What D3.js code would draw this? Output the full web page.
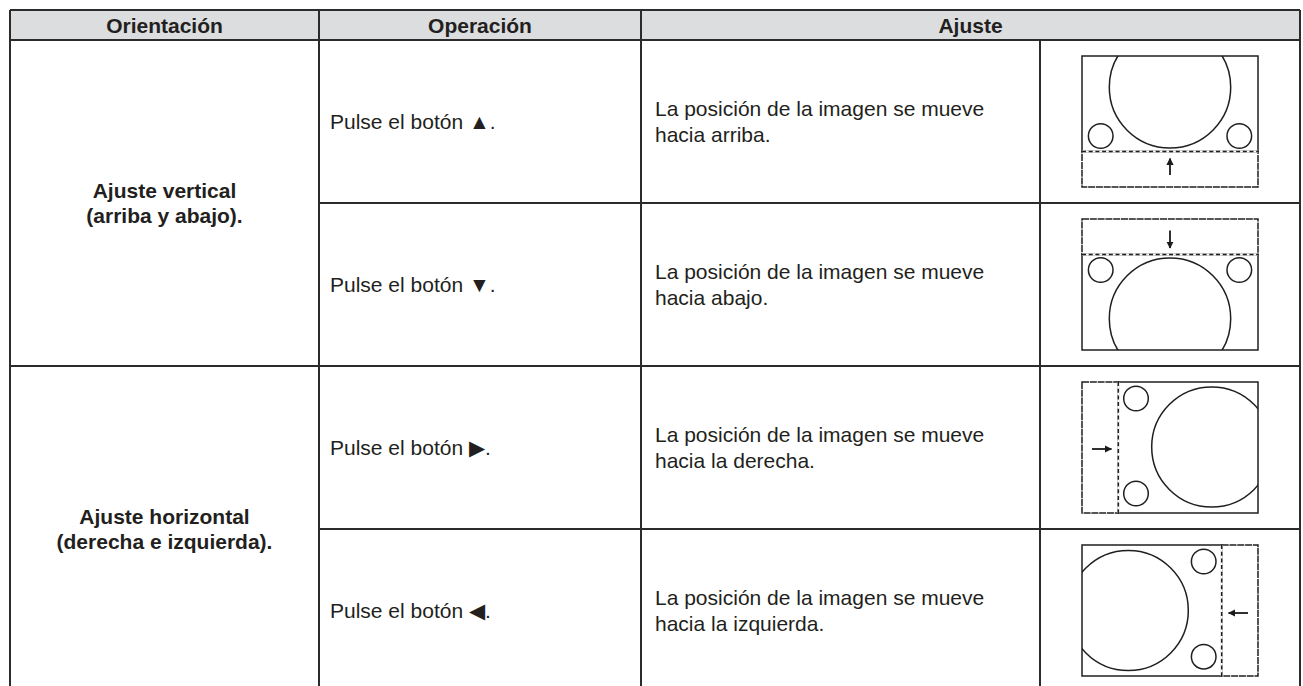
<!DOCTYPE html>
<html>
<head>
<meta charset="utf-8">
<script src="https://cdn.jsdelivr.net/npm/d3@7"></script>
<style>
  html, body { margin: 0; padding: 0; background: #fff; }
  svg { display: block; }
</style>
</head>
<body>
<svg id="chart" width="1303" height="686"></svg>
<script>
// ---- data ----
const headers = ["Orientación", "Operación", "Ajuste"];
const orientations = [
  ["Ajuste vertical", "(arriba y abajo)."],
  ["Ajuste horizontal", "(derecha e izquierda)."]
];
const operations = [
  "Pulse el botón ▲.",
  "Pulse el botón ▼.",
  "Pulse el botón ▶.",
  "Pulse el botón ◀."
];
const adjustments = [
  ["La posición de la imagen se mueve", "hacia arriba."],
  ["La posición de la imagen se mueve", "hacia abajo."],
  ["La posición de la imagen se mueve", "hacia la derecha."],
  ["La posición de la imagen se mueve", "hacia la izquierda."]
];
const directions = ["up", "down", "right", "left"];

// ---- layout ----
const W = 1303, H = 686;
const svg = d3.select("#chart");
const FONT = "'Liberation Sans', Arial, Helvetica, sans-serif";
const LINE = "#2b2b2b";
const TXT = "#231f20";
const FS = 21;

const tableTop = 10, headerH = 30;
const colX = d3.scaleOrdinal().domain(["c0", "c1", "c2", "c3", "c4"]).range([10, 319, 641, 1040, 1300]);
const rowY = d3.scaleBand().domain(d3.range(operations.length)).range([tableTop + headerH, tableTop + headerH + 4 * 163]);
const groupY = d3.scaleBand().domain(d3.range(orientations.length)).range([tableTop + headerH, tableTop + headerH + 4 * 163]);

// header background
svg.append("rect")
  .attr("x", colX("c0")).attr("y", tableTop)
  .attr("width", colX("c4") - colX("c0")).attr("height", headerH)
  .attr("fill", "#dcdddf");

// header text
const headerCenters = [
  (colX("c0") + colX("c1")) / 2,
  (colX("c1") + colX("c2")) / 2,
  (colX("c2") + colX("c4")) / 2
];
svg.selectAll("text.hdr").data(headers).join("text")
  .attr("class", "hdr")
  .attr("x", (d, i) => headerCenters[i])
  .attr("y", tableTop + headerH / 2 + 7.5)
  .attr("text-anchor", "middle")
  .attr("font-family", FONT).attr("font-weight", "bold").attr("font-size", FS)
  .attr("fill", TXT)
  .text(d => d);

// grid lines
const lines = [];
lines.push({x1: colX("c0"), x2: colX("c4"), y1: tableTop, y2: tableTop, w: 1.6});
lines.push({x1: colX("c0"), x2: colX("c4"), y1: tableTop + headerH, y2: tableTop + headerH, w: 1.6});
["c0", "c1", "c2", "c4"].forEach(c => lines.push({x1: colX(c), x2: colX(c), y1: tableTop, y2: H + 5, w: 1.4}));
lines.push({x1: colX("c3"), x2: colX("c3"), y1: tableTop + headerH, y2: H + 5, w: 1.2});
d3.range(1, operations.length).forEach(i => {
  const isGroup = i % 2 === 0;
  lines.push({
    x1: isGroup ? colX("c0") : colX("c1"), x2: colX("c4"),
    y1: rowY(i), y2: rowY(i), w: isGroup ? 1.8 : 1.2
  });
});
svg.selectAll("line.grid").data(lines).join("line")
  .attr("class", "grid")
  .attr("x1", d => d.x1).attr("x2", d => d.x2)
  .attr("y1", d => d.y1).attr("y2", d => d.y2)
  .attr("stroke", LINE).attr("stroke-width", d => d.w)
  .attr("shape-rendering", "crispEdges");

// orientation column (merged cells)
const lh = 25.7;
orientations.forEach((lns, gi) => {
  const cy = groupY(gi) + groupY.bandwidth() / 2;
  const t = svg.append("text")
    .attr("text-anchor", "middle")
    .attr("font-family", FONT).attr("font-weight", "bold").attr("font-size", FS)
    .attr("fill", TXT);
  lns.forEach((s, k) => {
    t.append("tspan")
      .attr("x", (colX("c0") + colX("c1")) / 2)
      .attr("y", cy + (k - (lns.length - 1) / 2) * lh + 7.5)
      .text(s);
  });
});

// operation column
svg.selectAll("text.op").data(operations).join("text")
  .attr("class", "op")
  .attr("x", colX("c1") + 11)
  .attr("y", (d, i) => rowY(i) + rowY.bandwidth() / 2 + 7.5)
  .attr("font-family", FONT).attr("font-size", FS)
  .attr("fill", TXT)
  .text(d => d);

// adjustment text column
adjustments.forEach((lns, i) => {
  const cy = rowY(i) + rowY.bandwidth() / 2;
  const t = svg.append("text")
    .attr("font-family", FONT).attr("font-size", FS)
    .attr("fill", TXT);
  lns.forEach((s, k) => {
    t.append("tspan")
      .attr("x", colX("c2") + 14)
      .attr("y", cy + (k - (lns.length - 1) / 2) * lh + 7.5)
      .text(s);
  });
});

// diagrams
const DW = 176, DH = 131, STRIP = 35.5;
const defs = svg.append("defs");
defs.append("marker").attr("id", "ah")
  .attr("viewBox", "0 0 10 10").attr("refX", 9).attr("refY", 5)
  .attr("markerWidth", 4).attr("markerHeight", 4).attr("markerUnits", "strokeWidth")
  .attr("orient", "auto")
  .append("path").attr("d", "M0,0 L10,5 L0,10 Z").attr("fill", "#1a1a1a");

function diagram(g, dir, idx) {
  const clipId = "clip" + idx;
  defs.append("clipPath").attr("id", clipId)
    .append("rect").attr("x", 0).attr("y", 0).attr("width", DW).attr("height", DH);
  g.append("rect").attr("width", DW).attr("height", DH).attr("fill", "#fff");
  const sw = 1.5, col = "#1f1f1f";
  let big, smalls, dashLine, strip, arrow;
  if (dir === "up") {
    big = {cx: DW / 2, cy: 31.3, r: 60.7};
    smalls = [{cx: 18.7, cy: 80}, {cx: DW - 18.7, cy: 80}];
    dashLine = [0, DH - STRIP, DW, DH - STRIP];
    strip = {x: 0, y: DH - STRIP, w: DW, h: STRIP};
    arrow = [DW / 2, DH - 12, DW / 2, DH - 28.5];
  } else if (dir === "down") {
    big = {cx: DW / 2, cy: DH - 31.3, r: 60.7};
    smalls = [{cx: 18.7, cy: 51}, {cx: DW - 18.7, cy: 51}];
    dashLine = [0, STRIP, DW, STRIP];
    strip = {x: 0, y: 0, w: DW, h: STRIP};
    arrow = [DW / 2, 11.5, DW / 2, 29];
  } else if (dir === "right") {
    big = {cx: 129.7, cy: 65, r: 60};
    smalls = [{cx: 54, cy: 16.5}, {cx: 54, cy: 111.5}];
    dashLine = [36.3, 0, 36.3, DH];
    strip = {x: 0, y: 0, w: 36.3, h: DH};
    arrow = [10, 67, 29.5, 67];
  } else {
    big = {cx: 46.3, cy: 65.5, r: 60};
    smalls = [{cx: 121.7, cy: 16.5}, {cx: 121.7, cy: 111.7}];
    dashLine = [DW - 36.3, 0, DW - 36.3, DH];
    strip = {x: DW - 36.3, y: 0, w: 36.3, h: DH};
    arrow = [DW - 10, 68, DW - 29.5, 68];
  }
  const cg = g.append("g").attr("clip-path", `url(#${clipId})`);
  cg.append("circle").attr("cx", big.cx).attr("cy", big.cy).attr("r", big.r)
    .attr("fill", "none").attr("stroke", col).attr("stroke-width", sw);
  smalls.forEach(s => cg.append("circle").attr("cx", s.cx).attr("cy", s.cy).attr("r", 12.3)
    .attr("fill", "none").attr("stroke", col).attr("stroke-width", sw));
  // image area outline (solid)
  const img = {x: 0, y: 0, w: DW, h: DH};
  if (dir === "up") img.h = DH - STRIP;
  if (dir === "down") { img.y = STRIP; img.h = DH - STRIP; }
  if (dir === "right") { img.x = 36.3; img.w = DW - 36.3; }
  if (dir === "left") { img.w = DW - 36.3; }
  g.append("rect").attr("x", img.x).attr("y", img.y).attr("width", img.w).attr("height", img.h)
    .attr("fill", "none").attr("stroke", col).attr("stroke-width", sw);
  // strip outline (very fine dashes, reads almost solid)
  g.append("rect").attr("x", strip.x).attr("y", strip.y).attr("width", strip.w).attr("height", strip.h)
    .attr("fill", "none").attr("stroke", col).attr("stroke-width", sw)
    .attr("stroke-dasharray", "7,0.8");
  // dashed boundary line
  g.append("line")
    .attr("x1", dashLine[0]).attr("y1", dashLine[1]).attr("x2", dashLine[2]).attr("y2", dashLine[3])
    .attr("stroke", "#fff").attr("stroke-width", sw + 0.5);
  g.append("line")
    .attr("x1", dashLine[0]).attr("y1", dashLine[1]).attr("x2", dashLine[2]).attr("y2", dashLine[3])
    .attr("stroke", col).attr("stroke-width", sw).attr("stroke-dasharray", "4,2.7");
  // arrow
  g.append("line")
    .attr("x1", arrow[0]).attr("y1", arrow[1]).attr("x2", arrow[2]).attr("y2", arrow[3])
    .attr("stroke", "#1a1a1a").attr("stroke-width", 1.8)
    .attr("marker-end", "url(#ah)");
}

directions.forEach((dir, i) => {
  const cx = (colX("c3") + colX("c4")) / 2;
  const cy = rowY(i) + rowY.bandwidth() / 2;
  const g = svg.append("g").attr("transform", `translate(${cx - DW / 2},${cy - DH / 2})`);
  diagram(g, dir, i);
});
</script>
</body>
</html>
